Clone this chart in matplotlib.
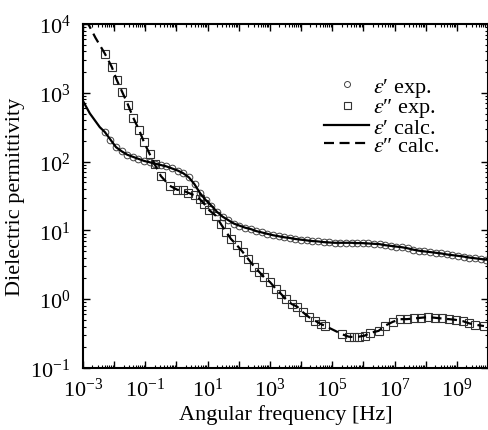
import numpy as np
import matplotlib
matplotlib.use("Agg")
from matplotlib import pyplot as plt
from matplotlib.ticker import LogLocator, FuncFormatter, NullFormatter

plt.rcParams['font.family'] = ['Liberation Serif', 'DejaVu Serif']
plt.rcParams['mathtext.fontset'] = 'stix'

# eps' measured (log10 of frequency, log10 of value)
eps1_logf = [-2.30, -2.12, -1.94, -1.76, -1.58, -1.40, -1.22, -1.04, -0.86, -0.68,
             -0.50, -0.32, -0.14, 0.04, 0.22, 0.40, 0.58, 0.76, 0.94, 1.12,
             1.30, 1.48, 1.66, 1.84, 2.02, 2.20, 2.38, 2.56, 2.74, 2.92,
             3.10, 3.28, 3.46, 3.64, 3.82, 4.00, 4.18, 4.36, 4.54, 4.72,
             4.90, 5.08, 5.26, 5.44, 5.62, 5.80, 5.98, 6.16, 6.34, 6.52,
             6.70, 6.88, 7.06, 7.24, 7.42, 7.60, 7.78, 7.96, 8.14, 8.32,
             8.50, 8.68, 8.86, 9.04, 9.22, 9.40, 9.58, 9.76, 9.94]
eps1_logv = [2.43, 2.32, 2.21, 2.15, 2.10, 2.07, 2.04, 2.01, 1.99, 1.97,
             1.95, 1.93, 1.90, 1.87, 1.83, 1.77, 1.67, 1.54, 1.44, 1.36,
             1.27, 1.20, 1.15, 1.10, 1.07, 1.04, 1.02, 0.99, 0.97, 0.95,
             0.93, 0.915, 0.90, 0.89, 0.875, 0.865, 0.855, 0.845, 0.84, 0.83,
             0.825, 0.82, 0.82, 0.82, 0.82, 0.815, 0.815, 0.81, 0.805, 0.80,
             0.785, 0.775, 0.765, 0.755, 0.74, 0.72, 0.705, 0.695, 0.685, 0.675,
             0.665, 0.65, 0.64, 0.63, 0.62, 0.605, 0.595, 0.585, 0.575]

# eps'' measured
eps2_logf = [-2.30, -2.08, -1.92, -1.74, -1.55, -1.39, -1.20, -1.04, -0.86, -0.70,
             -0.50, -0.22, 0.03, 0.20, 0.36, 0.58, 0.74, 0.90, 1.06, 1.27,
             1.43, 1.59, 1.75, 1.93, 2.12, 2.31, 2.50, 2.65, 2.81, 3.00,
             3.19, 3.35, 3.51, 3.70, 3.88, 4.06, 4.25, 4.44, 4.63, 4.78,
             5.32, 5.53, 5.69, 5.85, 6.04, 6.22, 6.49, 6.70, 6.94, 7.18,
             7.39, 7.63, 7.84, 8.09, 8.30, 8.51, 8.75, 8.96, 9.20, 9.39,
             9.58, 9.87]
eps2_logv = [3.57, 3.38, 3.19, 3.01, 2.82, 2.64, 2.46, 2.28, 2.11, 1.96,
             1.79, 1.65, 1.59, 1.58, 1.55, 1.51, 1.46, 1.38, 1.29, 1.21,
             1.09, 0.98, 0.875, 0.79, 0.69, 0.58, 0.47, 0.40, 0.32, 0.25,
             0.15, 0.08, 0.00, -0.07, -0.11, -0.19, -0.26, -0.31, -0.36, -0.39,
             -0.51, -0.545, -0.55, -0.545, -0.53, -0.49, -0.46, -0.385, -0.33, -0.29,
             -0.29, -0.28, -0.27, -0.26, -0.27, -0.28, -0.29, -0.30, -0.32, -0.35,
             -0.37, -0.39]

# calculated curves: low-frequency start plus the fitted values
calc1_logf = [-3.00, -2.78, -2.46] + eps1_logf
calc1_logv = [2.88, 2.70, 2.50] + eps1_logv
calc2_logf = [-2.90, -2.60] + eps2_logf
calc2_logv = [4.06, 3.80] + eps2_logv

legend_labels = ["$\\varepsilon$\u2032 exp.", "$\\varepsilon$\u2033 exp.",
                 "$\\varepsilon$\u2032 calc.", "$\\varepsilon$\u2033 calc."]

def p10(a):
    return 10 ** np.array(a)

fig = plt.figure(figsize=(4.89, 4.31), dpi=100)
ax = fig.add_axes([83 / 489, 1 - 369 / 431, 405 / 489, 344 / 431])

ax.plot(p10(eps1_logf), p10(eps1_logv), 'o', ms=4.8, mfc='none', mec='#444444',
        mew=0.7, label=legend_labels[0])
ax.plot(p10(eps2_logf), p10(eps2_logv), 's', ms=5.6, mfc='none', mec='#333333',
        mew=0.8, label=legend_labels[1])
ax.plot(p10(calc1_logf), p10(calc1_logv), '-', color='black', lw=1.6,
        label=legend_labels[2])
ax.plot(p10(calc2_logf), p10(calc2_logv), '--', color='black', lw=1.6,
        dashes=(4.5, 2.5), label=legend_labels[3])

ax.set_xscale('log')
ax.set_yscale('log')
ax.set_xlim(1e-3, 1e10)
ax.set_ylim(1e-1, 1e4)

ax.xaxis.set_major_locator(LogLocator(base=10, numticks=30))
ax.xaxis.set_minor_locator(LogLocator(base=10, subs=np.arange(2, 10), numticks=30))
ax.xaxis.set_minor_formatter(NullFormatter())

def xfmt(v, pos):
    e = int(round(np.log10(v)))
    if e % 2 == 0:
        return ''
    return r'$\mathdefault{10^{%d}}$' % e

ax.xaxis.set_major_formatter(FuncFormatter(xfmt))
ax.yaxis.set_major_locator(LogLocator(base=10, numticks=30))
ax.yaxis.set_minor_locator(LogLocator(base=10, subs=np.arange(2, 10), numticks=30))
ax.yaxis.set_minor_formatter(NullFormatter())

ax.tick_params(which='both', direction='in', top=True, right=True)
ax.tick_params(which='major', length=5, width=1.0, labelsize=16)
ax.tick_params(which='minor', length=2.5, width=0.8)
ax.tick_params(axis='x', which='major', pad=7)
ax.tick_params(axis='y', which='major', pad=9)
for s in ax.spines.values():
    s.set_linewidth(1.5)

ax.set_xlabel('Angular frequency [Hz]', fontsize=16, labelpad=2)
ax.set_ylabel('Dielectric permittivity', fontsize=16, labelpad=4)

leg = ax.legend(loc='upper left', bbox_to_anchor=(0.596, 0.85), frameon=False,
                fontsize=16, handlelength=2.0, handletextpad=0.2, labelspacing=-0.1,
                borderpad=0, borderaxespad=0, markerscale=0.9)

plt.savefig('out.png', dpi=100)
